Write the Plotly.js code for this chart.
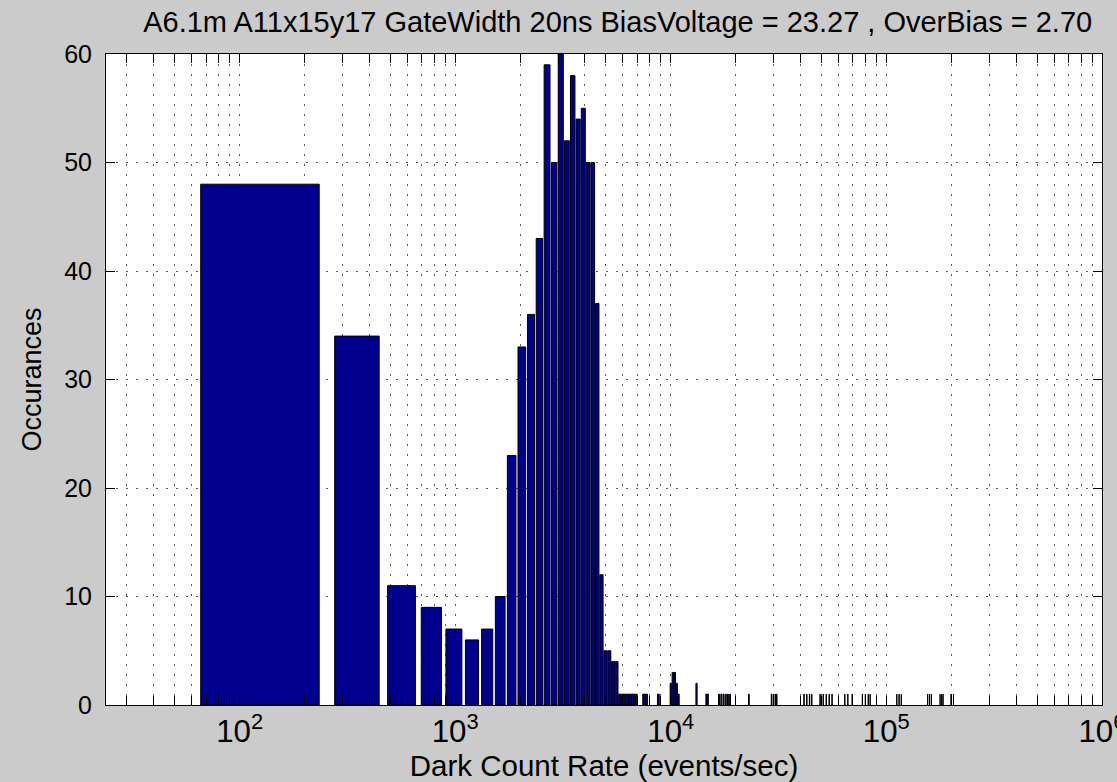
<!DOCTYPE html>
<html>
<head>
<meta charset="utf-8">
<script src="https://cdn.plot.ly/plotly-3.0.1.min.js"></script>
<style>html,body{margin:0;padding:0;background:#cbcbcb;}#chart{width:1117px;height:782px;}</style>
</head>
<body>
<div id="chart"></div>
<script>
// Histogram bin centres (events/sec)
const binCenters = [
  150, 360, 570, 780, 990, 1200, 1410, 1620, 1830, 2040,
  2250, 2460, 2670, 2880, 3090, 3300, 3510, 3720, 3930, 4140,
  4350, 4560, 4770, 4980, 5190, 5400, 5610, 5820, 6030, 6240,
  6450, 6660, 6870, 7500, 7710, 8760, 10020, 10230, 10440, 10650,
  10860, 13170, 14640, 14850, 16740, 17160, 17580, 18000, 18420, 18840,
  23040, 29340, 29970, 30600, 31020, 41520, 42780, 44040, 45090, 49290,
  50970, 52650, 54330, 56010, 64200, 66300, 69450, 77430, 79950, 82470,
  84150, 111870, 114600, 117330, 155550, 158700, 161850, 177600, 180750, 183270,
  199650, 204900
];
// Occurrences per bin
const counts = [
  48, 34, 11, 9, 7, 6, 7, 10, 23, 33,
  36, 43, 59, 50, 60, 52, 58, 54, 55, 50,
  50, 37, 12, 5, 5, 4, 4, 1, 1, 1,
  1, 1, 1, 1, 1, 1, 2, 3, 3, 2,
  1, 2, 1, 1, 1, 1, 1, 1, 1, 1,
  1, 1, 1, 1, 1, 1, 1, 1, 1, 1,
  1, 1, 1, 1, 1, 1, 1, 1, 1, 1,
  1, 1, 1, 1, 1, 1, 1, 1, 1, 1,
  1, 1
];
const chartTitle = 'A6.1m A11x15y17 GateWidth 20ns BiasVoltage = 23.27 , OverBias = 2.70';
const xTitle = 'Dark Count Rate (events/sec)';
const yTitle = 'Occurances';

const font = 'Liberation Sans, Arial, sans-serif';
const gridStyle = {showgrid: true, gridcolor: '#5a5a5a', griddash: '2px,8px', gridwidth: 1};

const trace = {
  type: 'bar',
  x: binCenters,
  y: counts,
  width: 168,
  marker: {color: '#00008c', line: {color: '#000000', width: 1}},
  hoverinfo: 'x+y'
};

const layout = {
  width: 1117, height: 782,
  paper_bgcolor: '#cbcbcb',
  plot_bgcolor: '#ffffff',
  margin: {l: 106, r: 15, t: 54, b: 77},
  showlegend: false,
  font: {family: font, color: '#000000'},
  title: {text: chartTitle, font: {family: font, size: 29, color: '#000'},
          xref: 'container', x: 0.553, xanchor: 'center', yref: 'container', y: 0.972, yanchor: 'middle'},
  xaxis: Object.assign({
    type: 'log', range: [Math.log10(24), 6.0005], dtick: 1, exponentformat: 'power',
    ticks: 'inside', ticklen: 9, tickcolor: '#000', tickwidth: 1,
    showline: true, linecolor: '#000', linewidth: 1, mirror: 'allticks',
    zeroline: false, tickfont: {size: 25}, ticklabeloverflow: 'allow',
    minor: Object.assign({dtick: 'D1', ticks: 'inside', ticklen: 9, tickcolor: '#000'}, gridStyle),
    title: {text: xTitle, font: {size: 29.5}, standoff: 4}
  }, gridStyle),
  yaxis: Object.assign({
    range: [0, 60], dtick: 10,
    ticks: 'inside', ticklen: 9, tickcolor: '#000', tickwidth: 1,
    showline: true, linecolor: '#000', linewidth: 1, mirror: 'allticks',
    zeroline: false, tickfont: {size: 25}, ticklabelstandoff: 8,
    title: {text: yTitle, font: {size: 27}, standoff: 14}
  }, gridStyle)
};

Plotly.newPlot('chart', [trace], layout, {displayModeBar: false});
</script>
</body>
</html>
